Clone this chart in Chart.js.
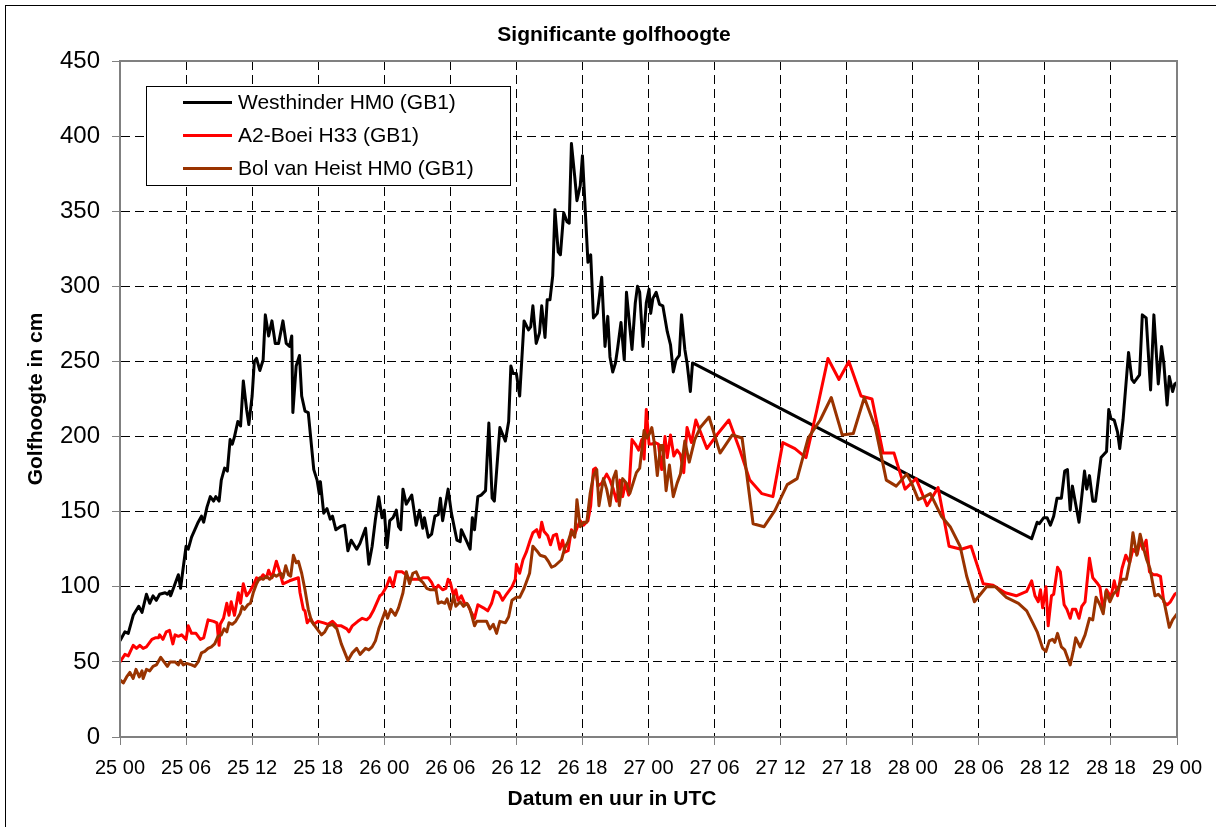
<!DOCTYPE html>
<html>
<head>
<meta charset="utf-8">
<script src="https://cdn.jsdelivr.net/npm/chart.js@4/dist/chart.umd.min.js"></script>
<style>
  html, body { margin: 0; padding: 0; background: #fff; overflow: hidden; }
  canvas { display: block; }
</style>
</head>
<body>
<canvas id="chart" width="1216" height="827"></canvas>
<script>
// hours since 25 00 UTC, wave height in cm
var westhinder = [
  [0,64],[0.45,70],[0.75,69],[1.2,81],[1.7,87],[2,83],[2.4,95],[2.7,89],[3,94],[3.3,91],
  [3.6,95],[4.1,96],[4.3,95],[4.5,97],[4.6,94],[5,102],[5.3,108],[5.5,99],[5.8,116],[6,127],
  [6.2,125],[6.5,133],[6.8,138],[7.1,143],[7.4,147],[7.6,143],[7.9,153],[8.2,160],[8.5,157],[8.7,160],
  [9,157],[9.2,171],[9.5,179],[9.75,177],[10,198],[10.2,195],[10.4,200],[10.7,210],[10.95,207],[11.2,237],
  [11.5,218],[11.7,208],[12,227],[12.2,250],[12.4,252],[12.7,244],[13,251],[13.2,281],[13.5,267],[13.8,277],
  [14.1,262],[14.4,262],[14.8,277],[15.1,262],[15.4,260],[15.6,267],[15.7,216],[16,247],[16.3,254],[16.5,227],
  [16.8,217],[17.1,216],[17.6,178],[17.9,171],[18.1,162],[18.2,170],[18.5,149],[18.8,152],[19.1,145],[19.3,147],
  [19.6,138],[20,140],[20.4,141],[20.7,124],[21,131],[21.5,125],[21.8,129],[22.3,139],[22.6,115],[22.9,127],
  [23.2,145],[23.5,160],[23.8,146],[24,151],[24.25,126],[24.5,144],[24.8,146],[25.1,151],[25.3,140],[25.5,138],
  [25.7,165],[26,155],[26.5,161],[26.9,141],[27.2,151],[27.5,139],[27.65,146],[28,133],[28.3,135],[28.6,147],
  [28.9,148],[29.1,159],[29.3,144],[29.8,165],[30.1,149],[30.6,131],[30.9,130],[31,138],[31.5,130],[31.8,125],
  [32,146],[32.2,138],[32.5,160],[32.8,161],[33.2,164],[33.5,209],[33.8,159],[34,157],[34.5,206],[35,197],
  [35.3,210],[35.5,247],[35.7,242],[36,242],[36.3,227],[36.7,277],[37.1,271],[37.3,273],[37.5,287],[37.8,262],
  [38.1,269],[38.3,287],[38.6,266],[38.8,291],[39.05,291],[39.3,307],[39.5,351],[39.8,323],[40,321],[40.3,349],
  [40.6,343],[40.8,342],[41,395],[41.3,373],[41.5,357],[41.8,367],[42,387],[42.5,316],[42.75,321],[43,279],
  [43.35,282],[43.75,306],[44.05,260],[44.3,280],[44.5,253],[44.75,243],[45,249],[45.2,259],[45.5,276],[45.8,251],
  [46,296],[46.3,273],[46.5,258],[46.8,289],[47,300],[47.2,296],[47.5,260],[47.8,289],[48.05,298],[48.2,282],
  [48.4,292],[48.7,296],[49,288],[49.3,287],[49.7,270],[50,261],[50.25,243],[50.5,251],[50.8,254],[51,281],
  [51.3,258],[51.5,249],[51.8,230],[52,249],
  [82.8,132],[83.3,143],[83.5,142],[83.9,146],[84.2,146],[84.5,141],[84.8,147],[85.1,159],[85.5,159],[85.8,177],
  [86.05,178],[86.3,151],[86.5,167],[86.8,155],[87.1,143],[87.6,177],[87.8,165],[88.05,174],[88.35,157],[88.6,157],
  [89.1,186],[89.6,190],[89.8,218],[90,212],[90.3,211],[90.6,203],[90.8,192],[91.1,211],[91.6,256],[91.9,238],
  [92.1,236],[92.6,241],[92.85,281],[93.2,279],[93.6,231],[93.9,281],[94.3,235],[94.6,260],[94.8,249],[95.1,221],
  [95.3,240],[95.6,230],[95.8,235],[96,236]
]

var a2Boei = [
  [0,50],[0.45,55],[0.75,54],[1.2,61],[1.5,59],[1.8,61],[2.1,59],[2.4,60],[2.9,65],[3.2,66],
  [3.5,66],[3.6,68],[3.9,65],[4.2,70],[4.5,71],[4.8,62],[5,68],[5.3,67],[5.6,68],[6,65],
  [6.2,74],[6.5,69],[6.9,69],[7.3,65],[7.6,66],[8,78],[8.5,77],[8.8,76],[9,61],[9.1,75],
  [9.4,79],[9.7,89],[9.9,81],[10.1,90],[10.4,81],[10.75,96],[10.95,89],[11.2,102],[11.5,94],[11.8,97],
  [12.1,101],[12.4,106],[12.7,105],[13,108],[13.3,106],[13.5,111],[13.8,106],[14.2,117],[14.5,110],[14.8,102],
  [15.4,104],[16.2,106],[16.35,96],[16.65,85],[16.8,84],[17,76],[17.3,79],[17.6,75],[18,77],[18.5,76],
  [18.9,75],[19.3,77],[19.7,74],[20.1,74],[20.6,72],[20.8,70],[21.1,74],[21.6,77],[22,79],[22.4,78],
  [22.7,80],[23,84],[23.3,89],[23.6,94],[23.8,95],[24.2,100],[24.5,106],[24.8,100],[25.1,110],[25.6,110],
  [26,108],[26.3,105],[26.6,105],[27.2,105],[27.5,106],[28,106],[28.3,103],[28.6,98],[28.9,101],[29.3,98],
  [29.6,99],[29.8,105],[30,103],[30.3,94],[30.5,98],[30.7,91],[31,94],[31.3,89],[31.6,88],[31.9,83],
  [32.2,79],[32.5,88],[33,86],[33.4,84],[33.75,89],[34.05,97],[34.4,96],[34.75,91],[35.1,95],[35.6,100],
  [35.9,105],[36,115],[36.3,109],[36.6,118],[36.9,123],[37.25,131],[37.5,136],[37.85,138],[38.1,133],[38.3,143],
  [38.5,137],[38.85,134],[39.1,128],[39.35,134],[39.65,135],[39.95,125],[40.2,131],[40.4,123],[40.7,124],[41,138],
  [41.3,135],[41.5,139],[41.8,144],[42.1,141],[42.5,144],[42.75,154],[43,178],[43.2,179],[43.4,167],[43.75,169],
  [44.2,175],[44.5,171],[44.8,165],[45.1,157],[45.4,171],[45.65,160],[45.9,169],[46.2,161],[46.5,198],[46.8,195],
  [47.1,191],[47.4,198],[47.6,185],[47.8,218],[48.05,195],[48.3,195],[48.6,196],[48.9,195],[49.2,178],[49.5,200],
  [49.7,186],[50,201],[50.3,187],[50.6,191],[50.9,188],[51.2,176],[51.5,206],[51.9,196],[52.3,211],[53.3,192],
  [54.2,201],[55.3,211],[56.3,191],[57.2,171],[58.3,162],[59.3,160],[60.2,196],[61.3,192],[62.3,186],[63.3,218],
  [64.3,252],[65.3,238],[66.2,250],[67.3,227],[68.3,225],[69.3,189],[70.3,189],[71.3,165],[72.3,172],[73.3,154],
  [74.3,166],[75.3,127],[76.4,125],[77.3,127],[78.4,102],[79.3,101],[80.4,96],[81.4,94],[82.35,97],[82.8,104],
  [83.1,94],[83.4,90],[83.6,98],[83.8,86],[84.1,100],[84.3,74],[84.6,94],[84.8,95],[85.15,113],[85.4,110],
  [85.75,88],[86,85],[86.3,79],[86.5,85],[86.8,85],[87.1,79],[87.35,87],[87.65,90],[88.05,119],[88.35,106],
  [88.8,102],[89,100],[89.3,84],[89.6,98],[90,93],[90.3,104],[90.6,94],[91,112],[91.35,121],[91.7,116],
  [92,125],[92.4,122],[92.65,131],[92.9,125],[93.2,131],[93.5,110],[93.85,108],[94.2,108],[94.5,107],[94.8,90],
  [95.1,88],[95.4,90],[95.8,95],[96,96]
]

var bolVanHeist = [
  [0,38],[0.3,36],[0.6,40],[0.9,43],[1.2,39],[1.45,45],[1.75,40],[2,44],[2.1,39],[2.4,45],
  [2.7,44],[3,47],[3.3,48],[3.7,53],[4,50],[4.3,47],[4.55,50],[5,50],[5.3,48],[5.5,51],
  [5.75,48],[6.05,49],[6.5,48],[6.8,47],[7.1,50],[7.4,56],[7.7,57],[8,59],[8.3,60],[8.6,62],
  [8.9,67],[9.2,68],[9.45,72],[9.7,70],[9.9,76],[10.2,75],[10.5,77],[10.9,82],[11.1,87],[11.3,85],
  [11.6,88],[11.85,89],[12.1,96],[12.4,102],[12.7,106],[13,105],[13.3,107],[13.6,105],[14,108],[14.2,107],
  [14.6,109],[14.8,106],[15.05,114],[15.3,108],[15.5,107],[15.75,121],[16,116],[16.2,117],[16.5,109],[16.8,98],
  [17.1,85],[17.4,77],[17.8,73],[18.3,68],[18.6,70],[18.9,74],[19.3,75],[19.7,72],[20.1,62],[20.7,51],
  [21.1,56],[21.5,59],[21.8,55],[22.3,59],[22.6,58],[22.9,60],[23.2,64],[23.5,72],[23.8,78],[24.1,84],
  [24.3,79],[24.6,85],[25,81],[25.3,86],[25.7,96],[26,110],[26.3,102],[26.6,109],[26.9,110],[27.2,105],
  [27.5,103],[27.85,99],[28.2,98],[28.7,98],[28.9,89],[29.2,90],[29.5,89],[29.7,92],[30,85],[30.3,94],
  [30.5,87],[30.9,90],[31.2,87],[31.5,89],[31.8,85],[32.2,74],[32.4,77],[33.3,77],[33.6,72],[33.9,75],
  [34.2,69],[34.5,77],[35,76],[35.3,80],[35.6,91],[36,93],[36.3,93],[36.7,99],[37,105],[37.2,109],
  [37.5,127],[37.85,124],[38.15,121],[38.6,120],[38.9,117],[39.2,113],[39.5,114],[39.8,116],[40.1,118],[40.4,126],
  [40.7,130],[41,137],[41.3,133],[41.5,158],[41.8,140],[42.1,143],[42.4,143],[42.7,162],[43,174],[43.3,178],
  [43.5,154],[43.9,172],[44.2,165],[44.5,154],[44.8,172],[45.05,177],[45.35,154],[45.65,172],[46,169],[46.3,162],
  [46.6,169],[46.9,176],[47.2,179],[47.6,204],[47.85,199],[48.1,202],[48.3,206],[48.5,197],[48.8,174],[49.1,194],
  [49.3,194],[49.6,164],[49.9,181],[50.25,160],[50.6,169],[50.9,175],[51.3,197],[51.7,183],[52.2,198],[52.7,206],
  [53.5,213],[54.5,189],[55.6,201],[56.5,199],[57.5,142],[58.5,140],[59.5,151],[60.6,168],[61.5,172],[62.5,199],
  [63.6,211],[64.6,226],[65.6,201],[66.6,202],[67.6,226],[68.6,206],[69.6,171],[70.5,167],[71.45,175],[71.9,169],
  [72.5,158],[73.1,160],[73.6,162],[74.6,147],[75.4,140],[76.3,127],[76.9,107],[77.6,90],[78.7,100],[79.5,100],
  [80.5,93],[81.6,89],[82.35,84],[82.9,76],[83.3,70],[83.8,59],[84.1,57],[84.4,64],[84.7,65],[84.9,63],
  [85.15,69],[85.5,60],[85.8,58],[86.3,48],[86.6,58],[86.8,66],[87.2,60],[87.65,68],[88.05,79],[88.35,78],
  [88.65,93],[89,88],[89.3,82],[89.55,97],[89.9,90],[90.2,95],[90.6,98],[91,105],[91.4,105],[91.7,116],
  [92,136],[92.35,121],[92.65,135],[92.95,126],[93.25,118],[93.55,112],[94,94],[94.3,95],[94.8,91],[95.3,73],
  [95.6,78],[96,82]
]

var seriesNames = ["Westhinder HM0 (GB1)", "A2-Boei H33 (GB1)", "Bol van Heist HM0 (GB1)"]
var seriesColors = ["#000000", "#FF0000", "#993300"]
var xTickLabels = ["25 00", "25 06", "25 12", "25 18", "26 00", "26 06", "26 12", "26 18", "27 00",
                   "27 06", "27 12", "27 18", "28 00", "28 06", "28 12", "28 18", "29 00"]

var chartTitle = "Significante golfhoogte"
var xTitle = "Datum en uur in UTC"
var yTitle = "Golfhoogte in cm"

var fontFamily = "'Liberation Sans', Arial, Helvetica, sans-serif"

function toPoints(list) {
    return list.map(function (p) { return { x: p[0], y: p[1] } })
}

// titles, outer frame, plot border and the boxed legend
var decorations = {
    id: "decorations",
    afterDraw: function (chart) {
        var ctx = chart.ctx
        var area = chart.chartArea
        ctx.save()

        ctx.strokeStyle = "#000"
        ctx.lineWidth = 1
        ctx.strokeRect(5.5, 5.5, 1216, 840)

        ctx.strokeStyle = "#808080"
        ctx.lineWidth = 2
        ctx.strokeRect(area.left, area.top, area.right - area.left, area.bottom - area.top)

        ctx.fillStyle = "#000"
        ctx.font = "bold 21px " + fontFamily
        ctx.textAlign = "center"
        ctx.textBaseline = "alphabetic"
        ctx.fillText(chartTitle, 614, 41)
        ctx.fillText(xTitle, 612, 805)

        ctx.save()
        ctx.translate(42, (area.top + area.bottom) / 2)
        ctx.rotate(-Math.PI / 2)
        ctx.fillText(yTitle, 0, 0)
        ctx.restore()

        // legend
        ctx.fillStyle = "#fff"
        ctx.fillRect(146.5, 86.5, 364, 99)
        ctx.strokeStyle = "#000"
        ctx.lineWidth = 1
        ctx.strokeRect(146.5, 86.5, 364, 99)
        ctx.font = "21px " + fontFamily
        ctx.textAlign = "left"
        ctx.textBaseline = "middle"
        chart.data.datasets.forEach(function (ds, i) {
            var y = 102.5 + i * 33
            ctx.strokeStyle = ds.borderColor
            ctx.lineWidth = 3
            ctx.beginPath()
            ctx.moveTo(183, y)
            ctx.lineTo(232, y)
            ctx.stroke()
            ctx.fillStyle = "#000"
            ctx.fillText(ds.label, 238, y + 1)
        })
        ctx.restore()
    }
}

var getChart = document.getElementById("chart")

var chart = new Chart(getChart, {
    type: "line",
    data: {
        datasets: [{
            label: seriesNames[0],
            data: toPoints(westhinder),
            borderColor: seriesColors[0],
            order: 3
        }, {
            label: seriesNames[1],
            data: toPoints(a2Boei),
            borderColor: seriesColors[1],
            order: 2
        }, {
            label: seriesNames[2],
            data: toPoints(bolVanHeist),
            borderColor: seriesColors[2],
            order: 1
        }]
    },
    options: {
        responsive: false,
        animation: false,
        devicePixelRatio: 1,
        layout: { padding: { top: 61, right: 39, bottom: 0, left: 0 } },
        elements: {
            line: { borderWidth: 3, tension: 0, borderJoinStyle: "round", fill: false },
            point: { radius: 0, hoverRadius: 0 }
        },
        plugins: {
            legend: { display: false },
            tooltip: { enabled: false },
            title: { display: false }
        },
        scales: {
            x: {
                type: "linear",
                min: 0,
                max: 96,
                afterFit: function (scale) { scale.height = 90 },
                afterBuildTicks: function (scale) {
                    scale.ticks = xTickLabels.map(function (t, i) { return { value: i * 6 } })
                },
                ticks: {
                    autoSkip: false,
                    maxRotation: 0,
                    padding: 11,
                    color: "#000",
                    font: { family: fontFamily, size: 20 },
                    callback: function (value) { return xTickLabels[value / 6] }
                },
                grid: { color: "#000", lineWidth: 1, tickColor: "#808080", tickLength: 8, tickWidth: 1 },
                border: { color: "#808080", width: 2, dash: [9, 5] }
            },
            y: {
                min: 0,
                max: 450,
                afterFit: function (scale) { scale.width = 120 },
                ticks: {
                    stepSize: 50,
                    padding: 12,
                    color: "#000",
                    font: { family: fontFamily, size: 24 }
                },
                grid: { color: "#000", lineWidth: 1, tickColor: "#808080", tickLength: 8, tickWidth: 1 },
                border: { color: "#808080", width: 2, dash: [9, 5] }
            }
        }
    },
    plugins: [decorations]
})
</script>
</body>
</html>
